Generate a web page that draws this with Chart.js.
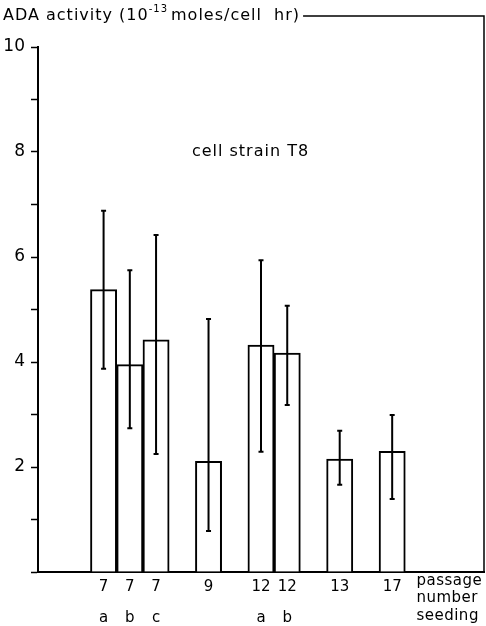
<!DOCTYPE html>
<html>
<head>
<meta charset="utf-8">
<script src="https://cdn.jsdelivr.net/npm/chart.js@4"></script>
<style>
  html, body { margin: 0; padding: 0; background: #fff; }
  #wrap { width: 486px; height: 626px; }
</style>
</head>
<body>
<div id="wrap"><canvas id="ada-chart"></canvas></div>
<script>
// passage number per slot (empty slots are the gaps between groups)
const passage = ['', '', '7', '7', '7', '', '9', '', '12', '12', '', '13', '', '17', '', '', ''];
const seeding = ['', '', 'a', 'b', 'c', '', '', '', 'a', 'b', '', '', '', '', '', '', ''];

// ADA activity, 10^-13 moles/cell hr
const activity = [null, null, 5.38, 3.95, 4.42, null, 2.11, null, 4.32, 4.17, null, 2.15, null, 2.30, null, null, null];
const errLow   = [null, null, 3.87, 2.74, 2.25, null, 0.78, null, 2.29, 3.18, null, 1.66, null, 1.39, null, null, null];
const errHigh  = [null, null, 6.88, 5.75, 6.42, null, 4.82, null, 5.94, 5.07, null, 2.69, null, 2.99, null, null, null];

const yTicks = [2, 4, 6, 8, 10];

const FONT = "'DejaVu Sans', sans-serif";

// error bars, drawn over the bars
const errorBars = {
  id: 'errorBars',
  afterDatasetsDraw(chart) {
    const ctx = chart.ctx;
    const y = chart.scales.y;
    const meta = chart.getDatasetMeta(0);
    ctx.save();
    ctx.strokeStyle = '#000';
    meta.data.forEach(function (bar, i) {
      if (errLow[i] == null) return;
      const top = y.getPixelForValue(errHigh[i]);
      const bot = y.getPixelForValue(errLow[i]);
      ctx.lineWidth = 2;
      ctx.beginPath();
      ctx.moveTo(bar.x, top);
      ctx.lineTo(bar.x, bot);
      ctx.moveTo(bar.x - 2.5, top);
      ctx.lineTo(bar.x + 2.5, top);
      ctx.moveTo(bar.x - 2.5, bot);
      ctx.lineTo(bar.x + 2.5, bot);
      ctx.stroke();
    });
    ctx.restore();
  }
};

// title, frame and the text notes
const frameAndText = {
  id: 'frameAndText',
  afterDraw(chart) {
    const ctx = chart.ctx;
    const area = chart.chartArea;
    const x = chart.scales.x;
    const y = chart.scales.y;
    const slot = x.getPixelForValue(1) - x.getPixelForValue(0);
    ctx.save();
    ctx.fillStyle = '#000';
    ctx.strokeStyle = '#000';
    ctx.textBaseline = 'alphabetic';
    ctx.letterSpacing = '1px';

    // y axis title along the top
    let tx = 3;
    const ty = 20;
    ctx.font = '16px ' + FONT;
    ctx.fillText('ADA activity (10', tx, ty);
    tx += ctx.measureText('ADA activity (10').width;
    ctx.font = '10px ' + FONT;
    ctx.fillText('-13', tx, ty - 8);
    tx += ctx.measureText('-13').width + 3;
    ctx.font = '16px ' + FONT;
    ctx.fillText('moles/cell  hr)', tx, ty);
    tx += ctx.measureText('moles/cell  hr)').width + 3;

    ctx.lineWidth = 1.5;
    ctx.beginPath();
    ctx.moveTo(tx, 16);
    ctx.lineTo(area.right, 16);
    ctx.lineTo(area.right, area.bottom);
    ctx.stroke();

    // note inside the plot
    ctx.font = '16px ' + FONT;
    ctx.textAlign = 'center';
    ctx.textBaseline = 'middle';
    ctx.fillText('cell strain T8', x.getPixelForValue(7) + slot * 0.6, y.getPixelForValue(8));

    // x axis names
    ctx.letterSpacing = '0.5px';
    ctx.font = '15px ' + FONT;
    ctx.textAlign = 'left';
    const lx = x.getPixelForValue(14) - 2;
    ctx.fillText('passage', lx, area.bottom + 9);
    ctx.fillText('number', lx, area.bottom + 26);
    ctx.fillText('seeding', lx, area.bottom + 44);
    ctx.restore();
  }
};

const ctx = document.getElementById('ada-chart').getContext('2d');
const adaChart = new Chart(ctx, {
  type: 'bar',
  data: {
    labels: passage.map(function (p, i) { return [p, seeding[i]]; }),
    datasets: [{
      label: 'ADA activity',
      data: activity,
      backgroundColor: '#fff',
      borderColor: '#000',
      borderWidth: 2,
      borderSkipped: 'bottom',
      barPercentage: 1,
      categoryPercentage: 1
    }]
  },
  options: {
    responsive: true,
    maintainAspectRatio: false,
    animation: false,
    layout: { padding: { top: 47, right: 2, left: 0, bottom: 0 } },
    plugins: {
      legend: { display: false },
      title: { display: false },
      tooltip: { enabled: false }
    },
    scales: {
      x: {
        grid: { display: false, drawTicks: false },
        border: { display: true, color: '#000', width: 2 },
        ticks: {
          color: '#000',
          maxRotation: 0,
          autoSkip: false,
          padding: 0,
          font: { family: FONT, size: 15, lineHeight: 2.05 }
        },
        afterFit: function (scale) { scale.height = 54; }
      },
      y: {
        min: 0,
        max: 10,
        grid: {
          drawOnChartArea: false,
          drawTicks: true,
          tickLength: 7,
          tickWidth: 1.5,
          tickColor: '#000'
        },
        border: { display: true, color: '#000', width: 2 },
        ticks: {
          stepSize: 1,
          color: '#000',
          padding: 6,
          font: { family: FONT, size: 17 },
          callback: function (v) { return yTicks.indexOf(v) >= 0 ? String(v) : ''; }
        },
        afterFit: function (scale) { scale.width = 38; }
      }
    }
  },
  plugins: [errorBars, frameAndText]
});
</script>
</body>
</html>
